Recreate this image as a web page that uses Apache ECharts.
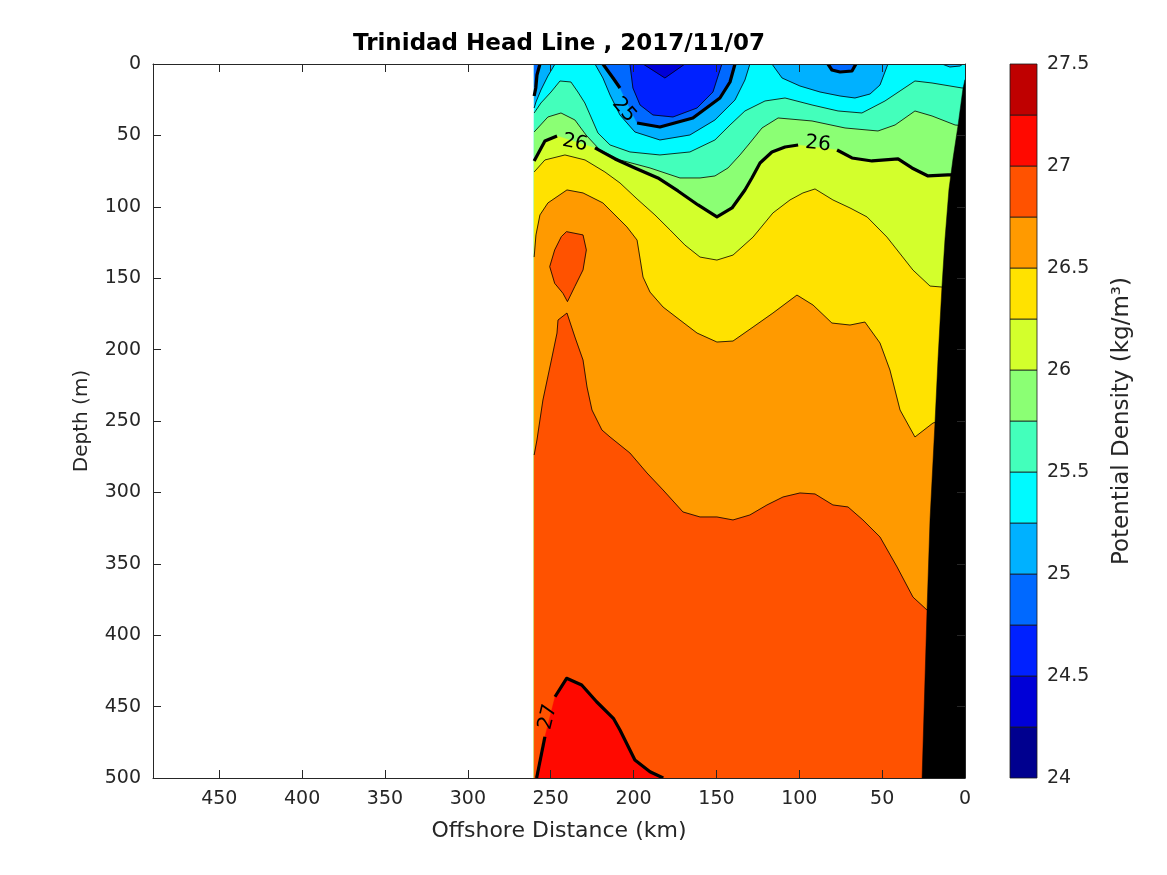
<!DOCTYPE html>
<html><head><meta charset="utf-8">
<script src="https://cdn.jsdelivr.net/npm/echarts@6/dist/echarts.min.js"></script>
<style>html,body{margin:0;padding:0;background:#fff}#c{width:1167px;height:875px}</style>
</head><body><div id="c"></div>
<script>
// ---------------- data (km offshore, depth m) ----------------
const xTicks = [0,50,100,150,200,250,300,350,400,450];
const depthTicks = [0,50,100,150,200,250,300,350,400,450,500];
const sectionStartKm = 260;
const maxDepth = 500;
const levels = [24,24.25,24.5,24.75,25,25.25,25.5,25.75,26,26.25,26.5,26.75,27,27.25,27.5];

const sectionDomain = [[260,0],[0,0],[0,500],[260,500]];

// light surface features
const sig25Left    = [[256.5,0],[258.3,7.7],[259,16.8],[260,22.4]];
const sig2525Left  = [[247.4,0],[251.7,8.4],[255.9,18.2],[258.9,26.6],[260,30.8]];
const sig2525Eddy  = [[223.3,0],[218.5,9.8],[214.2,21.7],[208.2,35.7],[199.2,47.6],[184.1,53.2],[166.0,49.7],[150.9,39.2],[138.8,25.2],[132.8,11.2],[129.8,0]];
const sig25Eddy    = [[218.5,0],[212.4,9.8],[208.2,16.8],null,[197.9,41.3],[184.1,44.1],[164.2,37.8],[147.9,23.8],[141.8,12.6],[138.8,0]];
const sig2475Eddy  = [[202.2,0],[200.4,16.8],[196.1,28.7],[188.3,35.7],[176.2,37.1],[161.7,30.8],[152.1,19.6],[146.7,0]];
const sig245Eddy   = [[194.3,0],[181.1,9.8],[169.0,0]];
const sig2525Bump  = [[116.5,0],[110.4,9.8],[99.6,15.4],[87.5,19.6],[75.4,22.4],[66.4,23.8],[57.3,21.0],[51.3,14.7],[46.5,0]];
const sig25U       = [[82.7,0],[80.3,4.2],[75.4,5.6],[68.2,4.9],[65.8,0]];
const sig2525Coast = [[13.9,0],[9.1,2.1],[3.0,1.4],[1.2,0]];

// stratified isopycnals
const sig255  = [[260,34.3],[255.9,27.3],[249.8,19.6],[244.4,11.9],[237.8,12.6],[233.6,19.6],[229.4,27.3],[225.7,37.1],[221.5,48.3],[214.2,56.7],[202.2,61.6],[184.1,63.7],[166.0,61.6],[150.9,53.2],[141.8,42.7],[132.8,32.9],[120.7,25.9],[108.6,23.8],[92.3,28.7],[76.6,32.9],[62.2,34.3],[48.3,25.9],[30.2,11.9],[19.9,13.3],[1.8,16.8],[0,16.8]];
const sig2575 = [[260,47.6],[251.7,37.1],[243.8,34.3],[235.4,39.2],[228.7,49.7],[220.3,60.2],[208.2,67.2],[190.1,72.8],[172.0,79.8],[159.9,79.8],[150.9,78.4],[143.0,72.8],[135.8,63.7],[129.8,55.3],[122.5,44.8],[112.8,37.8],[92.3,39.9],[72.4,44.8],[52.5,46.9],[42.2,42.7],[30.2,32.9],[19.9,36.4],[6.0,42.7],[0,43.4]];
const sig26   = [[260,67.9],[253.5,53.9],[246.2,50.4],null,[223.3,58.8],[211.2,66.5],[199.2,72.8],[185.3,79.8],[173.2,88.9],[161.1,98.7],[149.7,107.1],[140.6,100.8],[132.8,88.2],[128.6,79.8],[123.7,69.3],[116.5,61.6],[108.6,58.1],[100.7,56.7],null,[77.2,60.2],[68.2,65.8],[56.1,67.9],[40.4,66.5],[32.0,72.8],[22.3,78.4],[10.3,77.7],[0,77.7]];
const sig2625 = [[260,75.6],[253.5,67.2],[241.4,63.7],[229.3,67.2],[217.3,75.6],[208.2,83.3],[197.9,94.5],[187.1,105.7],[178.0,116.2],[169.0,126.8],[159.9,135.2],[149.7,137.3],[140.0,133.8],[127.9,121.2],[115.9,104.3],[105.6,95.2],[97.8,90.3],[90.5,87.5],[79.7,95.2],[69.4,100.8],[59.1,107.1],[47.1,121.2],[31.4,144.3],[21.1,155.5],[13.9,156.2],[6.0,156.2]];
const sig265  = [[260,135.2],[258.9,119.7],[256.5,105.7],[251.7,97.3],[240.2,88.2],[230.5,90.3],[218.5,97.3],[204.0,114.1],[197.9,123.3],[194.3,149.2],[190.1,159.7],[182.2,170.2],[172.0,179.3],[161.7,188.4],[149.7,194.7],[140.0,194.0],[127.9,184.2],[115.9,174.4],[101.4,161.8],[91.7,168.8],[80.3,181.4],[69.4,182.8],[60.4,180.7],[51.3,195.4],[45.3,214.3],[39.2,242.3],[30.2,261.2],[19.3,251.4],[12.1,249.3]];
const sig2675 = [[260,273.8],[258.3,263.3],[254.7,235.3],[249.2,205.2],[246.2,188.4],[245.6,179.3],[240.2,174.4],[235.4,191.2],[230.5,207.3],[228.1,226.2],[225.1,242.3],[219.1,256.3],[214.2,261.2],[202.2,272.4],[191.9,286.4],[182.2,298.3],[170.2,313.7],[159.9,317.2],[149.7,317.2],[140.0,319.3],[129.8,315.8],[119.5,308.8],[109.8,303.2],[99.6,300.4],[90.5,301.1],[79.7,308.8],[70.6,310.2],[61.6,319.3],[51.3,331.2],[41.0,352.2],[31.4,373.3],[22.9,382.4],[15.1,383.8]];
const sig2675Bubble = [[240.5,117.4],[230.5,119.7],[228.5,130.2],[230.5,144.2],[235.5,155.9],[239.9,166.4],[242.6,160.6],[247.6,153.6],[250.6,141.9],[247.6,130.2],[243.6,120.9]];
const sig27   = [[258.5,500],[253.5,471.1],null,[247.4,443.1],[240.4,430.2],[231.3,434.9],[222.3,446.6],[212.2,458.2],[208.2,466.4],[199.2,487.4],[190.1,495.6],[182.1,500]];

// sea floor (km, depth)
const bottomProfile = [[0,11],[1.2,17],[4.2,43],[7.2,66],[9.7,88],[12.1,123],[13.9,156],[16.3,207],[18.1,251],[21.1,319],[22.9,382],[25.9,500]];

// contour labels: km, depth, text
const contourLabels = [[235.4,55.3,'26'],[88.7,56.0,'26'],[205.8,32.2,'25'],[251.7,457.3,'27']];

// ---------------- styles ----------------
const palette = ['#00008F','#0000D7','#0021FF','#0069FF','#00B1FF','#00FAFF','#43FFBB','#8BFF74','#D3FF2C','#FFE200','#FF9A00','#FF5200','#FF0900','#BF0000'];
const labelRotation = [-0.2,-0.1,-0.85,1.33];
const FONT = 'DejaVu Sans';
const AX = '#262626';

const fillLayers = [
  {pts: sectionDomain, close:'none', band:5},
  {pts: sig2525Left, close:'top', band:4},
  {pts: sig2525Eddy, close:'top', band:4},
  {pts: sig2525Bump, close:'top', band:4},
  {pts: sig2525Coast, close:'top', band:4},
  {pts: sig25Left, close:'top', band:3},
  {pts: sig25Eddy, close:'top', band:3},
  {pts: sig25U, close:'top', band:3},
  {pts: sig2475Eddy, close:'top', band:2},
  {pts: sig245Eddy, close:'top', band:1},
  {pts: sig255, close:'below', band:6},
  {pts: sig2575, close:'below', band:7},
  {pts: sig26, close:'below', band:8},
  {pts: sig2625, close:'below', band:9},
  {pts: sig265, close:'below', band:10},
  {pts: sig2675, close:'below', band:11},
  {pts: sig2675Bubble, close:'none', band:11},
  {pts: sig27, close:'below', band:12}
];
const lineLayers = [
  {pts: sig25Left, thick:true}, {pts: sig2525Left}, {pts: sig2525Eddy}, {pts: sig25Eddy, thick:true},
  {pts: sig2475Eddy}, {pts: sig245Eddy}, {pts: sig2525Bump}, {pts: sig25U, thick:true}, {pts: sig2525Coast},
  {pts: sig255}, {pts: sig2575}, {pts: sig26, thick:true}, {pts: sig2625}, {pts: sig265},
  {pts: sig2675}, {pts: sig2675Bubble, closed:true}, {pts: sig27, thick:true}
];

function closePts(pts, mode){
  const p = pts.filter(Boolean);
  const f = p[0], l = p[p.length-1];
  if (mode === 'below') return p.concat([[l[0], maxDepth],[f[0], maxDepth]]);
  if (mode === 'top') return p.concat([[l[0], 0],[f[0], 0]]);
  if (mode === 'coast') return p.concat([[0, maxDepth]]);
  return p;
}
function firstPt(pts){ return pts.filter(Boolean)[0]; }

const chart = echarts.init(document.getElementById('c'), null, {renderer:'canvas'});

const axisBase = {
  type:'value', gridIndex:0, z:10,
  axisLine:{show:true, onZero:false, lineStyle:{color:AX, width:1}},
  axisTick:{show:true, inside:true, length:8, lineStyle:{color:AX, width:1}},
  splitLine:{show:false}
};

const option = {
  animation:false,
  backgroundColor:'#fff',
  title:{text:'Trinidad Head Line , 2017/11/07', left:559, top:33, textAlign:'center', padding:0,
    textStyle:{fontFamily:FONT, fontSize:23, fontWeight:'bold', color:'#000'}},
  grid:[
    {left:153, top:64, width:812, height:714},
    {left:1010, top:64, width:27, height:714}
  ],
  xAxis:[
    Object.assign({}, axisBase, {position:'bottom', min:0, max:490, interval:50, inverse:true,
      axisLabel:{show:true, fontFamily:FONT, fontSize:19, color:AX, margin:12,
        formatter:v => xTicks.indexOf(v) >= 0 ? String(v) : ''},
      name:'Offshore Distance (km)', nameLocation:'middle', nameGap:42,
      nameTextStyle:{fontFamily:FONT, fontSize:22, color:AX}}),
    Object.assign({}, axisBase, {position:'top', min:0, max:490, interval:50, inverse:true,
      axisLabel:{show:false}}),
    {type:'value', gridIndex:1, min:0, max:1, show:false}
  ],
  yAxis:[
    Object.assign({}, axisBase, {position:'left', min:0, max:maxDepth, interval:50, inverse:true,
      axisLabel:{show:true, fontFamily:FONT, fontSize:19, color:AX, margin:12,
        formatter:v => depthTicks.indexOf(v) >= 0 ? String(v) : ''},
      name:'Depth (m)', nameLocation:'middle', nameGap:61, nameRotate:90,
      nameTextStyle:{fontFamily:FONT, fontSize:20, color:AX}}),
    Object.assign({}, axisBase, {position:'right', min:0, max:maxDepth, interval:50, inverse:true,
      axisLabel:{show:false}}),
    {type:'value', gridIndex:1, position:'right', min:levels[0], max:levels[levels.length-1], interval:0.5,
      axisLine:{show:false}, axisTick:{show:false}, splitLine:{show:false},
      axisLabel:{fontFamily:FONT, fontSize:19, color:AX, margin:10},
      name:'Potential Density (kg/m³)', nameLocation:'middle', nameGap:74, nameRotate:90,
      nameTextStyle:{fontFamily:FONT, fontSize:23, color:AX}}
  ],
  series:[
    {
      type:'custom', xAxisIndex:0, yAxisIndex:0, clip:true, silent:true, z:1,
      data: fillLayers.map(l => firstPt(l.pts)),
      renderItem:(params, api) => {
        const l = fillLayers[params.dataIndex];
        const pts = closePts(l.pts, l.close).map(p => api.coord(p));
        return {type:'polygon', shape:{points:pts}, style:{fill:palette[l.band], stroke:palette[l.band], lineWidth:0.4}};
      }
    },
    {
      type:'custom', xAxisIndex:0, yAxisIndex:0, clip:true, silent:true, z:2,
      data: lineLayers.map(l => firstPt(l.pts)),
      renderItem:(params, api) => {
        const l = lineLayers[params.dataIndex];
        const segs = []; let cur = [];
        l.pts.forEach(p => {
          if (!p) { if (cur.length > 1) segs.push(cur); cur = []; }
          else cur.push(api.coord(p));
        });
        if (l.closed) cur.push(api.coord(l.pts[0]));
        if (cur.length > 1) segs.push(cur);
        return {type:'group', children: segs.map(s => ({
          type:'polyline', shape:{points:s},
          style:{stroke:'#000', lineWidth: l.thick ? 3.2 : 0.8, fill:null, lineJoin:'round'}
        }))};
      }
    },
    {
      type:'custom', xAxisIndex:0, yAxisIndex:0, clip:true, silent:true, z:3,
      data:[bottomProfile[0]],
      renderItem:(params, api) => {
        const pts = closePts(bottomProfile, 'coast').map(p => api.coord(p));
        return {type:'polygon', shape:{points:pts}, style:{fill:'#000', stroke:'#000', lineWidth:0.5}};
      }
    },
    {
      type:'custom', xAxisIndex:0, yAxisIndex:0, clip:true, silent:true, z:4,
      data: contourLabels.map(d => [d[0], d[1]]),
      renderItem:(params, api) => {
        const d = contourLabels[params.dataIndex];
        const c = api.coord([d[0], d[1]]);
        return {type:'text', x:c[0], y:c[1], rotation:labelRotation[params.dataIndex],
          style:{text:d[2], fontFamily:FONT, fontSize:20, fill:'#000', align:'center', verticalAlign:'middle'}};
      }
    },
    {
      type:'custom', xAxisIndex:2, yAxisIndex:2, silent:true, z:2,
      data: levels.slice(0, -1).map((lo, i) => [0, lo, levels[i+1]]),
      encode:{x:0, y:[1,2]},
      renderItem:(params, api) => {
        const a = api.coord([0, api.value(2)]);
        const b = api.coord([1, api.value(1)]);
        return {type:'rect', shape:{x:a[0], y:a[1], width:b[0]-a[0], height:b[1]-a[1]},
          style:{fill:palette[params.dataIndex], stroke:'#1a1a1a', lineWidth:0.8}};
      }
    }
  ]
};
chart.setOption(option);
</script>
</body></html>
